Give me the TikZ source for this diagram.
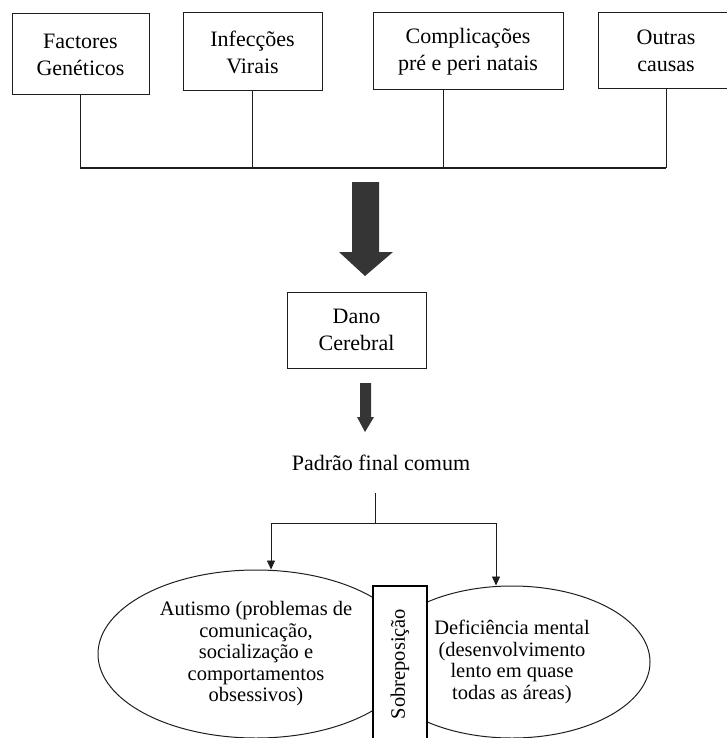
\documentclass[tikz,border=0pt]{standalone}
\usepackage{fontspec}
\setmainfont{Liberation Serif}
\usepackage{xcolor}
\usepackage{tikz}
\usetikzlibrary{arrows.meta,positioning,shapes.geometric,calc}
\definecolor{inkgrey}{HTML}{1E1E1E}
\definecolor{arrowgrey}{HTML}{353535}

\begin{document}
\begin{tikzpicture}[x=1pt,y=-1pt,
  box/.style={draw=inkgrey,line width=1pt,minimum height=78pt,inner sep=0pt,
              align=center,font=\fontsize{22}{27}\selectfont},
  oval/.style={draw=inkgrey,line width=1pt,ellipse,inner sep=0pt,align=center,
               font=\fontsize{20.5}{21.5}\selectfont},
  lbl/.style={font=\fontsize{22}{27}\selectfont},
  link/.style={draw=inkgrey,line width=0.8pt},
  arr/.style={-{Triangle[length=9pt,width=8pt]},draw=inkgrey,line width=0.8pt}
]
\useasboundingbox (0,0) rectangle (726,738);
\node[box,minimum width=137pt,minimum height=81pt] (fact) at (80.5,54.5) {Factores\\Genéticos};
\node[box,minimum width=139pt] (infec) at (252.5,52) {Infecções\\Virais};
\node[box,minimum width=190pt,minimum height=77pt] (compl) at (468,51.5) {Complicações\\pré e peri natais};
\node[box,minimum width=136pt,minimum height=76pt] (outras) at (666,51) {Outras\\causas};
% bus under the four causes
\coordinate (b1) at (80,168);
\coordinate (b2) at (252,168);
\coordinate (b3) at (443,168);
\coordinate (b4) at (666,168);
\draw[link] (b1 |- fact.south) -- (b1);
\draw[link] (b2 |- infec.south) -- (b2);
\draw[link] (b3 |- compl.south) -- (b3);
\draw[link] (b4 |- outras.south) -- (b4);
\draw[draw=inkgrey,line width=1.6pt] (b1) -- (b4);
% block arrows
\fill[arrowgrey] (352,182) -- (379,182) -- (379,252) -- (393,252) -- (365,276)
                 -- (339,252) -- (352,252) -- cycle;
\node[box,minimum width=139pt,minimum height=76pt] (dano) at (356.5,330) {Dano\\Cerebral};
\fill[arrowgrey] (360,383) -- (371,383) -- (371,417) -- (374,417) -- (365,432)
                 -- (357,417) -- (360,417) -- cycle;
\node[lbl] (padrao) at (381,463) {Padrão final comum};
% split to the two outcomes
\coordinate (stem) at (375,493);
\coordinate (split) at (375,523);
\coordinate (splitL) at (271,523);
\coordinate (splitR) at (496,523);
\node[oval,minimum width=316pt,minimum height=168pt] (autismo) at (256,654)
     {Autismo (problemas de\\comunicação,\\socialização e\\comportamentos\\obsessivos)};
\node[oval,minimum width=276pt,minimum height=152pt] (defic) at (512,662)
     {Deficiência mental\\(desenvolvimento\\lento em quase\\todas as áreas)};
\node[draw=black,line width=2.4pt,fill=white,rotate=90,minimum width=156pt,
      minimum height=54pt,inner sep=0pt,font=\fontsize{20.5}{21.5}\selectfont]
     (sobre) at (400,664) {Sobreposição};
\draw[link] (stem) -- (split);
\draw[link] (splitL) -- (splitR);
\draw[arr] (splitL) -- (splitL |- autismo.north);
\draw[arr] (splitR) -- (splitR |- defic.north);
\end{tikzpicture}
\end{document}
